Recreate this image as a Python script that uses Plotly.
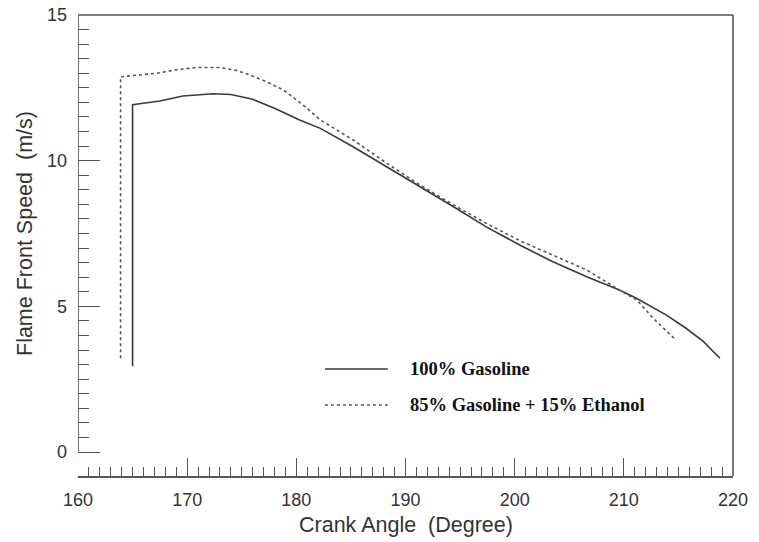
import plotly.graph_objects as go

# Crank angle (degree) and flame front speed (m/s)
gas_angle = [165, 165, 167.5, 169.6, 172.4, 174.0, 176.0, 178.0, 180.3, 182.2, 185.2, 188.3,
             191.3, 194.4, 197.4, 200.5, 203.5, 206.6, 209.6, 211.2, 213.9, 215.7, 217.3, 218.8]
gas_speed = [2.95, 11.92, 12.05, 12.22, 12.30, 12.27, 12.11, 11.80, 11.40, 11.11, 10.48, 9.79,
             9.11, 8.42, 7.73, 7.10, 6.53, 6.02, 5.56, 5.27, 4.70, 4.25, 3.79, 3.22]

eth_angle = [163.9, 163.9, 165.0, 167.2, 169.0, 170.9, 173.0, 174.5, 175.75, 177.2, 178.8, 180.5,
             182.2, 185.2, 188.3, 191.3, 194.4, 197.4, 200.5, 203.5, 206.6, 209.6, 211.2, 212.7, 214.7]
eth_speed = [3.22, 12.88, 12.92, 13.00, 13.12, 13.20, 13.20, 13.10, 12.94, 12.72, 12.43, 11.95,
             11.40, 10.71, 9.91, 9.17, 8.48, 7.85, 7.25, 6.76, 6.25, 5.56, 5.22, 4.59, 3.87]

series_names = ["100% Gasoline", "85% Gasoline + 15% Ethanol"]
x_ticks = [160, 170, 180, 190, 200, 210, 220]
y_ticks = [0, 5, 10, 15]
y_minor = [v / 2 for v in range(1, 30) if v % 10 != 0]

AX = "#555555"
TXT = "#333333"
sans = "Arial, Liberation Sans, sans-serif"
serif = "Times New Roman, Liberation Serif, serif"

fig = go.Figure()
fig.add_trace(go.Scatter(x=gas_angle, y=gas_speed, mode="lines", name=series_names[0],
                         line=dict(color="#3a3a3a", width=1.6), showlegend=False))
fig.add_trace(go.Scatter(x=eth_angle, y=eth_speed, mode="lines", name=series_names[1],
                         line=dict(color="#555555", width=1.6, dash="dot"), showlegend=False))

fig.update_xaxes(range=[160, 220], tickmode="array", tickvals=x_ticks, automargin=False,
                 ticks="inside", ticklen=18, tickwidth=1.3, tickcolor=AX,
                 minor=dict(dtick=1, tick0=160, ticks="inside", ticklen=9, tickwidth=1.2, tickcolor=AX),
                 showline=True, linecolor=AX, linewidth=1.6, showgrid=False, zeroline=False,
                 tickfont=dict(family=sans, size=18, color=TXT), ticklabelstandoff=7,
                 ticklabeloverflow="allow")
fig.update_yaxes(range=[-0.82, 15], tickmode="array", tickvals=y_ticks, automargin=False,
                 ticks="inside", ticklen=22, tickwidth=1.3, tickcolor=AX,
                 minor=dict(tickmode="array", tickvals=y_minor, ticks="inside", ticklen=11,
                            tickwidth=1.2, tickcolor=AX),
                 showline=False, showgrid=False, zeroline=False,
                 tickfont=dict(family=sans, size=18, color=TXT), ticklabelstandoff=10,
                 ticklabeloverflow="allow")

shapes = [
    # frame: top, right, left axis line (0..15)
    dict(type="line", xref="paper", yref="paper", x0=0, x1=1, y0=1, y1=1, line=dict(color=AX, width=1.6)),
    dict(type="line", xref="paper", yref="paper", x0=1, x1=1, y0=0, y1=1, line=dict(color=AX, width=1.6)),
    dict(type="line", xref="x", yref="y", x0=160, x1=160, y0=0, y1=15, line=dict(color=AX, width=1.6)),
    # legend samples
    dict(type="line", xref="paper", yref="paper", x0=0.377, x1=0.473, y0=0.2321, y1=0.2321,
         line=dict(color="#3a3a3a", width=1.6)),
    dict(type="line", xref="paper", yref="paper", x0=0.377, x1=0.473, y0=0.154, y1=0.154,
         line=dict(color="#555555", width=1.4, dash="dot")),
]

annotations = [
    dict(text="Crank Angle\u00a0\u00a0(Degree)", xref="paper", yref="paper", x=0.5, y=-0.106,
         xanchor="center", yanchor="middle", showarrow=False,
         font=dict(family=sans, size=21.5, color=TXT)),
    dict(text="Flame Front Speed\u00a0\u00a0(m/s)", xref="paper", yref="paper", x=-0.081, y=0.527,
         xanchor="center", yanchor="middle", textangle=-90, showarrow=False,
         font=dict(family=sans, size=21.5, color=TXT)),
    dict(text="<b>" + series_names[0] + "</b>", xref="paper", yref="paper", x=0.504, y=0.2321,
         xanchor="left", yanchor="middle", showarrow=False,
         font=dict(family=serif, size=18.5, color="#111111")),
    dict(text="<b>" + series_names[1] + "</b>", xref="paper", yref="paper", x=0.504, y=0.154,
         xanchor="left", yanchor="middle", showarrow=False,
         font=dict(family=serif, size=18.5, color="#111111")),
]

fig.update_layout(width=759, height=542, margin=dict(l=78, r=26, t=15, b=66),
                  plot_bgcolor="white", paper_bgcolor="white",
                  shapes=shapes, annotations=annotations, showlegend=False)

# remove the default page body margin so the figure sits at the window's top-left corner
fig.write_html("out.html", config={"displayModeBar": False},
               post_script="document.body.style.margin='0';")
